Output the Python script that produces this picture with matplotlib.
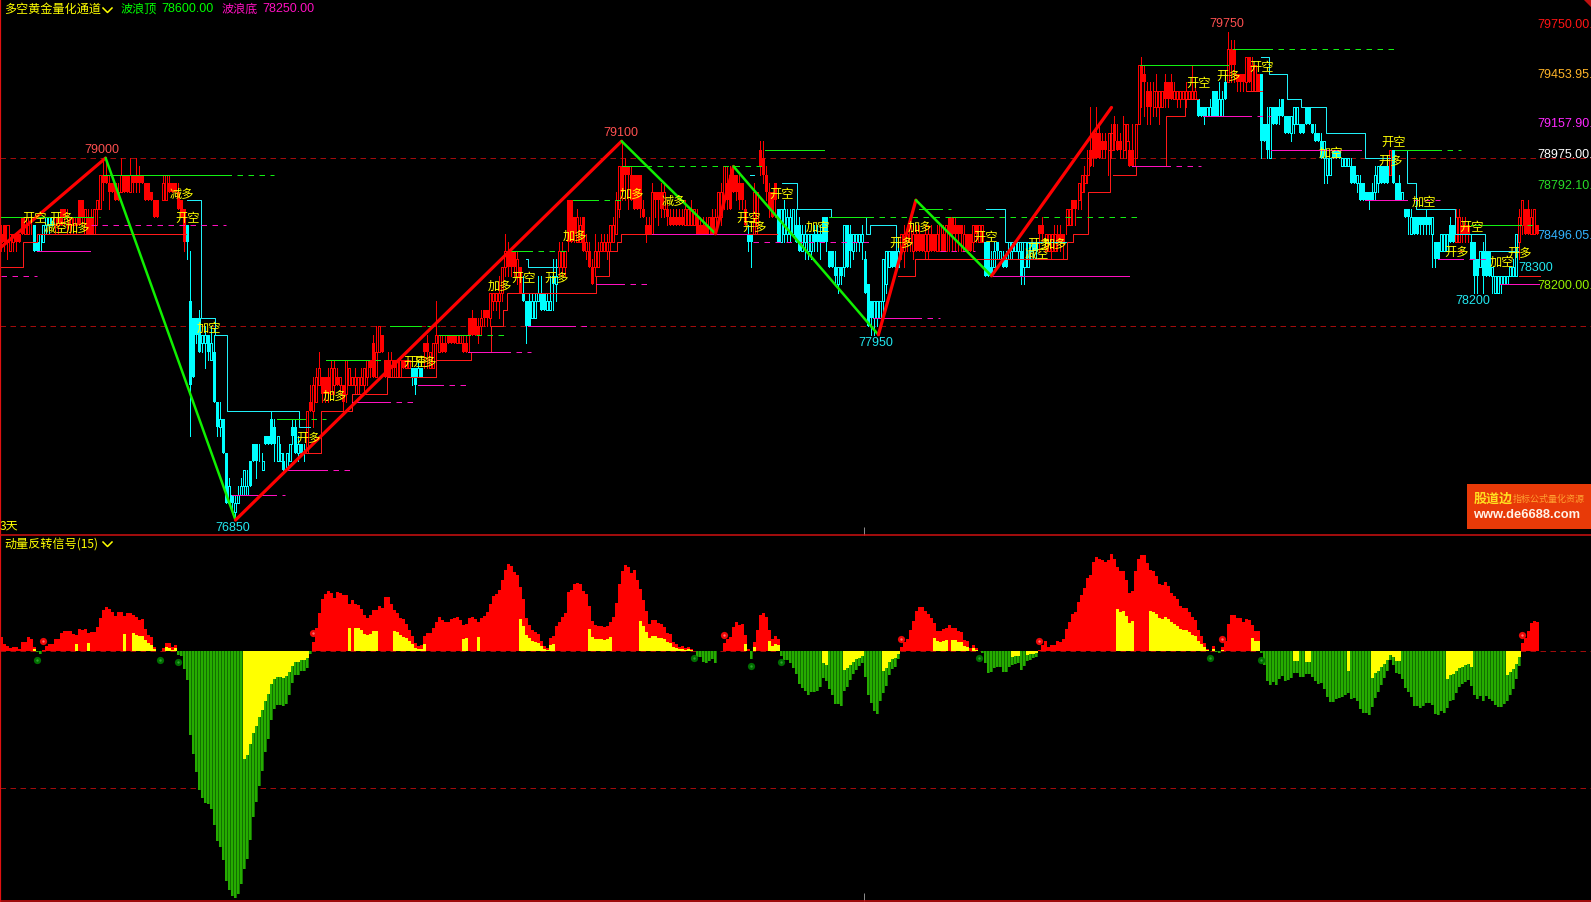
import numpy as np
import matplotlib
matplotlib.use("Agg")
import matplotlib.pyplot as plt
from matplotlib.lines import Line2D
from matplotlib.patches import Rectangle

plt.rcParams['font.family'] = ['Liberation Sans', 'Noto Sans CJK SC', 'DejaVu Sans']

# ---- price data, in ticks: price = PRICE_BASE + PRICE_STEP * tick
PRICE_BASE = 76800
PRICE_STEP = 50

opens = [
34,36,34,33,34,35,35,37,35,35, 36,36,34,33,34,36,36,36,36,36, 38,38,36,36,36,36,39,39,35,37,
37,35,38,38,42,42,41,41,41,40, 40,42,42,40,42,42,42,42,41,41, 40,39,39,39,39,39,41,41,41,40,
39,38,36,27,25,25,25,22,22,23, 20,21,15,12,13,9,3,4,2,3, 4,5,4,8,10,10,8,7,11,11,
13,12,8,8,8,7,8,12,12,9, 10,9,9,15,14,15,17,18,18,18, 16,17,18,17,17,16,17,17,17,16,
17,17,18,20,22,18,21,23,20,20, 18,20,18,18,20,19,19,19,19,18, 19,22,22,19,19,22,21,22,22,23,
23,23,22,22,22,22,25,25,25,24, 24,26,26,25,27,27,27,28,31,33, 33,33,30,31,28,27,27,25,25,27,
28,28,26,26,30,29,31,31,31,39, 39,37,34,34,37,33,33,31,31,31, 33,33,33,34,34,35,38,43,43,43,
42,42,42,42,38,36,36,35,40,40, 40,38,38,37,37,37,37,37,36,36, 36,36,37,36,36,36,35,37,35,37,
37,39,41,42,42,42,41,41,38,35, 35,35,36,45,44,42,40,40,41,38, 34,35,35,35,35,36,36,33,34,33,
33,35,35,35,37,37,33,33,31,29, 31,31,36,35,33,34,34,34,32,29, 27,25,25,25,27,29,31,33,33,31,
33,33,34,34,33,35,35,35,33,33, 35,35,33,33,35,33,37,37,36,36, 36,33,35,35,34,36,34,34,34,34,
31,31,34,32,32,32,32,33,33,33, 33,31,31,33,34,34,36,36,33,33, 33,33,35,35,35,36,36,39,39,39,
40,41,42,45,47,47,47,46,46,45, 45,48,46,46,45,46,45,45,44,48, 55,54,52,52,50,50,50,50,53,53,
53,51,51,51,51,51,51,51,51,51, 50,50,49,49,52,52,49,49,53,53, 57,57,54,54,54,53,56,52,52,54,
54,48,48,44,50,50,50,51,49,49, 47,48,48,48,48,50,50,48,47,47, 46,44,42,42,45,45,45,43,43,43,
43,43,41,41,41,40,40,40,40,41, 43,43,43,42,45,41,41,39,38,38, 35,37,37,37,37,37,37,35,34,34,
33,33,33,36,36,34,34,36,36,36, 34,34,32,31,33,33,33,30,28,28, 29,29,29,30,30,30,34,36,38,38,35,35,36]
closes = [
35,34,36,35,35,34,34,35,37,36, 36,33,33,35,36,37,37,37,37,37, 36,37,37,37,37,37,36,37,38,35,
35,38,39,42,41,41,40,40,39,39, 42,40,40,42,41,41,41,41,39,39, 39,37,37,39,41,42,40,40,40,38,
37,34,34,17,18,23,21,23,23,21, 22,15,12,13,9,3,5,3,3,4, 5,7,5,5,8,8,8,8,10,10,
10,10,11,9,7,9,10,11,9,10, 9,9,14,14,17,18,19,16,16,16, 19,19,17,18,15,20,19,18,18,18,
18,19,20,19,18,21,24,21,18,18, 20,19,20,20,19,20,20,18,17,19, 18,21,21,21,22,23,23,21,21,22,
22,22,23,23,21,21,23,23,23,23, 25,25,25,28,28,28,28,31,33,31, 31,31,32,28,27,24,24,27,27,28,
26,26,27,27,29,30,33,33,33,34, 34,35,37,36,33,34,31,29,33,33, 34,34,34,36,36,39,43,40,42,42,
39,38,38,38,37,35,35,40,39,39, 38,40,37,36,36,36,36,36,38,38, 38,38,35,35,35,35,37,35,37,40,
40,43,39,38,40,40,39,39,36,34, 34,40,40,43,42,40,38,37,39,34, 38,38,37,37,38,34,33,35,35,35,
35,34,34,34,34,34,31,31,30,31, 30,36,31,33,35,35,35,35,28,24, 25,27,27,27,32,33,33,31,31,33,
35,35,35,36,35,33,33,33,35,35, 33,33,35,36,33,36,35,35,35,35, 35,35,33,33,36,35,36,36,30,30,
30,33,33,33,31,31,34,34,34,34, 30,34,34,34,33,33,35,35,35,35, 35,35,34,34,34,38,38,38,38,41,
42,42,44,43,44,44,44,45,45,47, 47,46,45,45,48,48,43,43,48,55, 53,53,50,50,52,52,52,52,51,51,
51,52,52,52,52,52,52,52,52,49, 49,49,50,50,49,49,51,51,51,57, 55,55,53,53,53,56,53,55,55,52,
46,46,45,50,48,48,49,49,47,47, 49,50,50,47,47,48,48,47,46,46, 44,46,44,44,44,44,44,44,44,44,
41,41,42,39,39,39,39,39,42,43, 41,41,41,45,41,39,39,40,37,37, 37,35,35,36,36,36,36,37,32,32,
35,35,35,34,34,37,37,35,35,35, 32,30,30,33,30,30,30,31,30,30, 30,30,30,31,31,35,37,39,35,35,37,38,35]
highs = [
36,36,36,35,35,35,35,37,37,37, 37,36,34,35,36,37,37,37,37,37, 38,38,38,37,37,37,39,39,38,38,
38,38,39,42,44,44,42,41,41,41, 44,42,42,44,42,44,43,42,41,41, 40,39,39,39,42,42,42,41,41,41,
39,38,36,33,25,25,26,23,24,23, 24,23,15,15,13,9,6,4,4,5, 6,7,7,8,10,10,10,9,11,11,
14,13,11,10,9,9,10,13,13,11, 10,10,14,17,18,19,21,18,18,19, 20,20,19,18,17,20,19,18,19,18,
19,19,20,20,23,24,24,23,20,21, 21,20,20,20,20,20,20,19,19,20, 19,22,23,21,22,27,23,23,23,23,
23,23,23,23,23,23,25,26,25,25, 26,26,26,28,28,28,30,31,35,34, 33,33,33,31,30,27,28,28,28,30,
30,28,28,30,32,32,34,34,33,39, 39,37,38,37,37,35,34,32,35,34, 35,35,35,36,37,40,43,46,44,43,
43,42,42,42,39,37,37,41,40,40, 41,41,39,38,38,38,38,38,39,38, 39,38,38,37,37,37,37,38,38,40,
41,43,43,43,43,42,42,41,39,36, 35,41,40,46,46,43,41,40,41,38, 38,39,38,38,38,38,37,36,36,35,
35,36,36,36,37,37,33,33,33,31, 31,36,36,36,35,35,35,36,33,29, 27,27,27,27,32,33,33,33,33,34,
35,36,36,37,36,36,36,35,36,36, 36,35,36,36,36,36,37,37,37,36, 36,36,35,35,36,36,36,36,34,34,
33,34,34,33,33,33,34,34,34,34, 34,34,34,34,34,34,36,37,35,35, 35,36,36,36,35,38,38,39,39,41,
42,43,45,50,47,50,48,47,47,47, 48,49,48,47,49,48,46,48,48,55, 56,55,53,53,53,54,52,52,54,53,
54,53,52,52,52,53,52,55,53,51, 50,50,50,51,52,52,53,52,54,59, 58,58,54,54,54,56,56,56,55,54,
54,48,50,50,50,50,51,51,49,49, 49,50,50,48,48,50,50,48,48,47, 47,46,44,44,45,45,45,44,44,44,
44,43,42,42,41,40,40,41,43,43, 43,43,44,45,45,41,42,40,38,38, 38,37,37,37,37,38,37,37,34,34,
35,35,35,37,36,38,38,37,37,36, 35,34,32,33,34,33,33,31,30,30, 30,30,30,31,32,35,38,39,38,39,38,38,36]
lows = [
33,33,32,33,33,33,34,35,35,35, 35,33,33,33,34,35,35,36,35,35, 36,36,35,35,35,35,36,36,35,35,
35,35,36,38,39,41,38,40,39,39, 40,40,40,40,40,40,40,41,39,39, 39,37,37,39,39,39,40,40,40,38,
37,33,32,11,18,22,21,21,19,20, 20,15,11,11,9,3,3,2,1,3, 4,4,4,5,8,6,8,7,10,10,
10,8,8,8,7,7,8,10,9,8, 9,8,9,14,12,15,17,15,15,15, 16,16,17,16,14,15,17,17,16,16,
17,16,17,18,18,18,21,21,18,18, 18,18,18,18,19,19,19,17,16,18, 18,19,19,19,19,18,21,21,21,22,
22,22,22,22,21,21,21,23,23,22, 23,24,24,24,26,26,25,27,30,30, 30,30,29,28,27,22,24,25,25,27,
26,26,26,26,26,27,30,30,30,33, 34,34,34,34,33,32,31,29,30,31, 33,33,32,33,34,35,37,39,39,38,
39,38,38,37,37,34,35,35,37,36, 37,37,36,36,36,36,36,36,36,36, 36,36,35,35,35,35,35,35,35,36,
36,38,38,38,40,39,38,38,36,33, 31,35,35,42,41,39,37,37,37,34, 34,34,34,34,35,34,33,33,32,32,
32,33,33,32,34,33,31,31,29,28, 29,30,31,31,32,33,33,32,28,24, 23,23,24,25,25,28,31,31,31,31,
32,31,33,33,32,33,33,33,32,32, 33,33,33,33,33,33,33,33,33,33, 33,33,33,33,33,34,34,34,30,30,
30,31,32,32,31,31,32,32,33,32, 29,29,31,32,32,32,33,34,33,33, 32,33,33,33,32,35,36,36,36,38,
38,40,41,43,43,44,44,44,44,42, 44,45,45,44,44,44,43,43,43,48, 50,49,48,48,49,49,48,50,50,50,
51,51,50,50,51,50,51,51,51,49, 49,48,49,49,49,49,49,49,51,53, 53,53,52,52,52,52,53,52,52,52,
44,46,44,44,48,48,48,49,47,47, 46,47,48,47,47,48,48,47,46,46, 44,41,41,42,44,44,44,43,43,43,
41,41,40,39,39,39,38,39,39,40, 41,41,41,42,41,39,39,39,37,35, 35,35,35,35,35,35,35,31,31,32,
33,33,33,34,34,34,34,34,34,34, 32,28,28,31,28,30,30,28,28,28, 28,29,29,30,30,30,32,35,35,35,35,35,35]

bear_run_start = [11, 62, 137, 174, 249, 259, 328, 399, 420, 464, 490]
bear_run_end = [17, 101, 140, 185, 250, 299, 345, 408, 462, 484, 505]

# zig-zag wave (bar, tick)
wave_bar = [-0.5, 34.7, 78, 206.7, 238, 244, 292.3, 304.8, 330, 370]
wave_tick = [33.3, 44, 1, 46, 35, 43, 23, 39, 30, 50]

wave_label = ['79000', '76850', '79100', '77950', '79750', '78200', '78300']
wave_label_bar = [33.5, 77, 206.5, 291.5, 408.5, 490.5, 511.5]
wave_label_tick = [44, 1, 46, 23, 59, 28, 30]
wave_label_colour = ['#ff5050', '#22e8f0', '#ff5050', '#22e8f0', '#ff5050', '#22e8f0', '#22e8f0']
wave_label_side = [1, -1, 1, -1, 1, -1, 1]

# stepped channels (NaN breaks a run)
n = np.nan
red_step_bar = [0,7.3,12,61.5,n, 99.4,106.4,116.8,128.4,145,156.4,163.3,167.3,168.4,198.3,202.4,205.2,206.4,258.5,n,
                299,304.4,355.3,357.3,362.3,369.4,370,n, 370.6,378.3,388.3,394.4,399,n, 415.3,420.3,n, 485.5,487.2,n, 506,513]
red_step_tick = [31,34,35,35,n, 9,14,16,18,20,21,24,26,28,30,33,34,35,35,n,
                 30,32,34,35,40,47,47,n, 42,43,49,51,51,n, 52,52,n, 33,33,n, 30,30]
cyan_step_bar = [62,66.4,71.3,75.3,99.3,103,n, 175,175.5,185.3,n, 249.5,251,n,
                 260.3,265.3,276.4,288.3,289.5,298.3,299,n, 328.3,334.4,355,n,
                 420,422.6,428.4,433.3,441.4,454.4,463,n, 464.4,468.6,471.4,484.4,494.4,505.6]
cyan_step_tick = [39,25,23,14,12,12,n, 32,31,31,n, 42,42,n,
                  41,38,37,35,36,33,33,n, 38,34,34,n,
                  56,54,51,50,47,44,44,n, 45,41,38,35,33,33]

# pivot levels: solid part then dashed extension
green_tick = [37,42,13,20,24,23,33,39,43,45,37,38,37,55,57,45,36]
green_start = [0,34,91.7,108.3,129.4,146,169.4,190.5,207,254.4,276,306,317,379.4,410.5,464.4,490]
green_solid_end = [29,75,99.4,121,138.3,154.4,175.3,197.2,215,274.2,288.9,312,329,409,422,478.3,505]
green_dash_end = [33,91,108.3,128.3,146,168.3,189,206.6,254,274.2,329,316.4,379.4,409,464.4,486.4,512]
pink_tick = [30,33,36,4,7,15,17,21,24,29,35,34,25,33,30,43,49,45,39,32,29]
pink_start = [0,12,30,76.7,95,117,139,155.5,175.5,198.3,217,250.5,290.5,313,330.5,377,400.5,423.3,454.4,479,499.4]
pink_solid_end = [0,29.4,30,90,107,128,145.5,168,189.5,206,249,250.5,305,313,376,388,415,453.3,466.7,485.6,512.4]
pink_dash_end = [12,29.4,75,94.4,117,138,155,176.5,197,216,249,289.4,313,324.5,376,400,423.3,453.3,479.4,496.7,512.4]

# yellow trade signals
signal_text = ['开空','开多','减空','加多','减多','开空','加空','开多','加多','开空','开多','加多','开空','开多','加多',
               '加多','减多','开空','开多','开空','加空','开多','加多','开空','减空','开多','加多','开空','开多','开空',
               '加空','开空','开多','加空','开空','开多','加空','开多']
signal_bar = [11,20,18,25.5,60,62,69,102.5,111,138,141,166,174,185,191,
              210,224,249,251,260,272,300,306,328,345,346,351,399,409,420,
              443,464,463,474,490,485,500,506]
signal_tick = [36.8,36.8,35.6,35.7,39.7,36.8,23.8,10.7,15.7,19.7,19.7,28.8,29.7,29.7,34.7,
               39.7,38.8,36.8,35.8,39.7,35.8,33.8,35.8,34.6,32.6,33.7,33.7,52.8,53.7,54.7,
               44.6,45.8,43.6,38.7,35.8,32.8,31.6,32.7]

axis_prices = [79750.00, 79453.95, 79157.90, 78975.00, 78792.10, 78496.05, 78200.00]
axis_text = ['79750.00.', '79453.95.', '79157.90.', '78975.00.', '78792.10.', '78496.05.', '78200.00.']
axis_colour = ['#ff1414', '#ffb428', '#ff28ff', '#ffffff', '#28dc28', '#32b4ff', '#96f000']

# ---- momentum panel
momentum = [
14,7,5,3,4,4,2,9,9,14, 12,4,-1,-3,1,5,7,7,12,12, 18,20,20,20,17,16,22,21,22,18, 19,19,24,33,41,44,42,39,35,39,
39,35,38,38,36,34,31,32,22,16, 14,4,0,0,3,8,8,4,6,
-4,-5,-18,-29,-84,-103,-121,-139,-147,-152,-153,-158,-174,-190,-196,-209,-230,-239,-245,-247,
-243,-233,-218,-208,-189,-166,-151,-135,-120,-101,-88,-69,-58,-54,-54,-55,-53,-44,-32,-24,-24,-20,-20,-17,-3,
9,23,38,52,57,60,58,53,59,58, 56,56,47,51,47,46,42,36,33,36, 41,41,45,43,54,54,47,41,38,
33,32,27,21,15,8,5,6,15,18, 18,23,29,34,31,29,29,32,33,34, 31,26,27,33,34,32,29,33,35,39,
47,55,57,61,71,81,87,85,79,76, 64,52,33,26,21,19,17,10,5,3, 13,15,25,29,34,38,59,61,67,68,
67,60,57,45,30,26,25,25,24,25, 29,34,48,67,80,86,84,78,81,71, 62,51,40,27,31,31,28,27,24,18,
17,9,7,4,5,3,4,2,0,-6, -6,-11,-12,-10,-8,-12,0,0,8,12, 14,24,29,26,27,16,2,-8,9,21,
36,38,34,21,12,15,12,-5,-9,-9, -12,-17,-23,-33,-37,-40,-44,-41,-41,-40, -36,-27,-30,-38,-44,-53,-53,-55,-40,-36,
-29,-23,-19,-15,-12,-26,-44,-52,-60,-63, -50,-42,-35,-24,-18,-16,-8,4,9,12, 21,30,40,44,44,40,37,33,28,20,
20,22,23,26,23,23,20,19,11,10, 3,6,3,0,-2,-12,-22,-21,-17,-16, -16,-21,-21,-16,-14,-13,-12,-19,-15,-10,
-9,-7,-6,1,6,10,4,6,6,10, 9,12,22,29,37,39,49,56,63,73, 76,89,94,92,91,89,91,97,92,84,
80,80,71,58,60,80,92,96,96,88, 81,80,75,67,66,69,65,58,55,52, 45,43,43,39,34,31,21,15,8,2,
0,5,-1,-2,4,10,27,36,36,33, 33,29,32,31,26,20,20,-2,-14,-30, -34,-31,-34,-28,-25,-30,-29,-27,-22,-22,
-26,-26,-23,-23,-26,-30,-33,-32,-38,-46, -51,-51,-48,-47,-46,-44,-42,-48,-47,-50, -58,-62,-62,-64,-56,-47,-41,-34,-27,-20,
-9,-14,-22,-23,-28,-37,-41,-46,-55,-55, -57,-55,-52,-52,-54,-63,-64,-60,-62,-57, -50,-49,-42,-36,-33,-31,-29,-35,-44,-48,
-45,-50,-45,-48,-50,-54,-56,-56,-53,-50, -44,-38,-28,-15,8,13,20,28,30,29]

yellow_run_start = [11,25,29,41,44,55,81,116,118,131,154,159,173,196,213,248,251,256,274,281,294,311,317,324,337,342,
                    372,383,404,407,417,431,435,449,457,482,502]
yellow_run_value = [[2],[7],[8],[17],[18,16,15,15,11,8,6,2],[4,3,1,3],
    [-108,-104,-93,-82,-75,-66,-59,-50,-43,-33,-28,-26,-26,-27,-25,-21,-15,-11,-11,-9,-9,-7,0],
    [23],[23,23,21,17,16,17,20,20],[20,19,16,14,13,10,7,3,2,2,7],[12,13],[14],
    [32,25,16,13,10,9,8,5,2,1,6,7],[22,14,12,12,12,11,12,14],
    [30,25,19,13,15,15,13,13,12,9,8,4,3,2,2,1,2,1],[7],[4],[10,5,7,6],[-12,-14],
    [-19,-17,-14,-11,-8,-7,-5],[-20,-17,-11,-8,-7,-3],[13,10,9,10,11],[11,11,9,9,5,4],[3,1],
    [-6,-5,-5],[-4,-3,-3,-2],[42,39,40,35,28,30],
    [40,39,37,33,32,34,32,29,27,25,22,21,21,19,16,15,10,7,4,1],[2],[1],[13,10,10],[-10,-10],[-11,-11],[-20],
    [-27,-22,-20,-16,-13,-9,-4,-6,-10,-10],[-28,-24,-23,-20,-17,-16,-14,-13,-16],[-24,-21,-18,-13,-6]]

buy_dot_bar = [14,104,241,300,346,407,507]
buy_dot_value = [10,18,16,12,10,12,16]
sell_dot_bar = [12,53,59,231,250,260,326,403,420]
sell_dot_value = [-9,-9,-11,-7,-15,-11,-7,-7,-9]

# ---- layout
W, H = 1591, 902
PANEL_SPLIT = 535
fig = plt.figure(figsize=(W/100, H/100), dpi=100, facecolor='black')
ax = fig.add_axes([0, (H-PANEL_SPLIT)/H, 1, PANEL_SPLIT/H], facecolor='black')
ax2 = fig.add_axes([0, 1/H, 1, (H-PANEL_SPLIT-1)/H], facecolor='black')

def price(t):
    return PRICE_BASE + PRICE_STEP*np.asarray(t, dtype=float)

PX_PER_TICK = 8.42
xlim = (-0.5, W/3-0.5)
ax.set_xlim(*xlim)
ax.set_ylim(price(44-(PANEL_SPLIT-158)/PX_PER_TICK), price(44+158/PX_PER_TICK))
ax2.set_xlim(*xlim)
ax2.set_ylim(650.7-(H-1), 650.7-PANEL_SPLIT)

BORDER = '#d01010'
for a in (ax, ax2):
    for s in ('top', 'right'):
        a.spines[s].set_visible(False)
    a.spines['left'].set_color('#e01010')
    a.spines['left'].set_linewidth(1.6)
    a.spines['bottom'].set_color(BORDER)
    a.spines['bottom'].set_linewidth(1.1)
    a.set_yticks([])
    a.set_xticks([287.5])
    a.set_xticklabels([''])
    a.tick_params(axis='x', direction='in', length=5.5, width=0.72, color='#8a8a8a')
ax.set_zorder(3)

LW = 0.72
DASH = (0, (5.5, 4.5))
DARKRED = '#a00c0c'

# reference dashes
for t in (44, 24):
    ax.axhline(price(t), color=DARKRED, lw=LW, ls=DASH, zorder=1)
ax2.axhline(0, color=DARKRED, lw=LW, ls=DASH, zorder=1)
ax2.axhline(-137, color=DARKRED, lw=LW, ls=DASH, zorder=1)

# ---- candles
O, C, Hi, Lo = map(np.array, (opens, closes, highs, lows))
N = min(len(O), len(C), len(Hi), len(Lo), len(momentum))
bars = np.arange(N)
is_bear = np.zeros(N, bool)
for s, e in zip(bear_run_start, bear_run_end):
    is_bear[s:e+1] = True
colours = np.where(is_bear, '#00ffff', '#ff0000')

ax.vlines(bars, price(Lo[:N]), price(Hi[:N]), colors=colours, lw=LW, zorder=2, antialiased=False)
filled = O[:N] >= C[:N]
ax.bar(bars[filled], price(O[:N][filled])-price(C[:N][filled]), bottom=price(C[:N][filled]), width=1.0,
       color=colours[filled], linewidth=0, antialiased=False, zorder=3)
hollow = ~filled
ax.bar(bars[hollow], price(C[:N][hollow])-price(O[:N][hollow]), bottom=price(O[:N][hollow]), width=2/3,
       facecolor='black', edgecolor=colours[hollow], linewidth=LW, antialiased=False, zorder=3)

# ---- channels and pivots
ax.plot(red_step_bar, price(red_step_tick), drawstyle='steps-post', color='#ff1a1a', lw=LW, zorder=4)
ax.plot(cyan_step_bar, price(cyan_step_tick), drawstyle='steps-post', color='#20f0f8', lw=LW, zorder=4)

def levels(ticks, starts, solid, dash, colour):
    for t, a, b, c in zip(ticks, starts, solid, dash):
        if b > a:
            ax.plot([a, b], price([t, t]), color=colour, lw=LW, zorder=4)
        if c > b:
            ax.plot([b, c], price([t, t]), color=colour, lw=LW, ls=(0, (5.5, 5.5)), zorder=4)

levels(green_tick, green_start, green_solid_end, green_dash_end, '#12f012')
levels(pink_tick, pink_start, pink_solid_end, pink_dash_end, '#ff10c0')

# ---- zig-zag
for i in range(len(wave_bar)-1):
    up = wave_tick[i+1] > wave_tick[i]
    ax.plot(wave_bar[i:i+2], price(wave_tick[i:i+2]), color='#ff0000' if up else '#10f000',
            lw=2.3 if up else 1.8, solid_capstyle='round', zorder=5)

for t, b, v, c, side in zip(wave_label, wave_label_bar, wave_label_tick, wave_label_colour, wave_label_side):
    ax.annotate(t, (b, price(v)), xytext=(0, 8*side), textcoords='offset pixels', color=c,
                fontsize=9, ha='center', va='center', zorder=7)

for t, b, v in zip(signal_text, signal_bar, signal_tick):
    ax.text(b, price(v), t, color='#ffff00', fontsize=8.8, ha='center', va='center', zorder=6,
            family=['Noto Sans CJK SC', 'DejaVu Sans'])

for p, t, c in zip(axis_prices, axis_text, axis_colour):
    ax.annotate(t, (1537/3-0.5, p), xytext=(0, 7), textcoords='offset pixels', color=c,
                fontsize=9, ha='left', va='center', zorder=7, annotation_clip=False)

# ---- momentum bars
mom = np.array(momentum[:N])
yel = np.zeros(N)
for s, vals in zip(yellow_run_start, yellow_run_value):
    yel[s:s+len(vals)] = vals
pos = mom > 0
neg = mom < 0
ax2.bar(bars[pos], mom[pos], width=1.0, color='#ff0000', linewidth=0, antialiased=False, zorder=2)
ax2.bar(bars[neg], mom[neg], width=1.0, color='#127000', linewidth=0, antialiased=False, zorder=2)
ax2.bar(bars[neg]-1/6, mom[neg], width=2/3, color='#26ac00', linewidth=0, antialiased=False, zorder=3)
ax2.bar(bars, yel, width=1.0, color='#ffff00', linewidth=0, antialiased=False, zorder=4)
ax2.scatter(buy_dot_bar, buy_dot_value, s=27, color='#ee0808', linewidths=0, zorder=5)
ax2.scatter(sell_dot_bar, sell_dot_value, s=27, color='#006e00', linewidths=0, zorder=5)
ax2.scatter(buy_dot_bar, buy_dot_value, s=3, color='#ff7070', linewidths=0, zorder=6)
ax2.scatter(sell_dot_bar, sell_dot_value, s=3, color='#30a030', linewidths=0, zorder=6)

# ---- header text
def ftext(x, y, s, colour, size, **kw):
    kw.setdefault('ha', 'left')
    kw.setdefault('va', 'center')
    return fig.text(x/W, 1-y/H, s, color=colour, fontsize=size, zorder=10, **kw)

def chevron(x, y):
    fig.add_artist(Line2D([x/W, (x+4.5)/W, (x+9)/W], [1-y/H, 1-(y+4.5)/H, 1-y/H], color='#ffff00', lw=1.1, zorder=10))

CJK = ['Noto Sans CJK SC', 'DejaVu Sans']
ftext(4, 9, '多空黄金量化通道', '#ffff00', 8.7, family=CJK)
chevron(103, 8)
ftext(121, 9, '波浪顶', '#00ff00', 8.7, family=CJK)
ftext(161, 8.5, '78600.00', '#00ff00', 9)
ftext(222, 9, '波浪底', '#ff10c0', 8.7, family=CJK)
ftext(262, 8.5, '78250.00', '#ff10c0', 9)
ftext(0, 526, '3天', '#ffff00', 8.7, family=CJK)
ftext(4, 544, '动量反转信号(15)', '#ffff00', 8.7, family=CJK)
chevron(103, 542)

# ---- watermark logo and corner fold
fig.add_artist(Rectangle((1467/W, 1-529/H), 124/W, 45/H, transform=fig.transFigure, facecolor='#e83a08', edgecolor='none', zorder=9))
ftext(1474, 499, '股道边', '#ffe020', 9.4, family=CJK, weight='bold')
ftext(1513, 499, '指标公式量化资源', '#ffa030', 6.5, family=CJK)
ftext(1473, 515.5, 'www.de6688.com', '#fff4e8', 9.3, weight='bold')
fig.add_artist(plt.Polygon([[1584/W, 1], [1, 1], [1, 1-7/H]], closed=True, transform=fig.transFigure,
                           facecolor='#c01010', edgecolor='none', zorder=9))

fig.savefig('out.png', dpi=100, facecolor='black')
